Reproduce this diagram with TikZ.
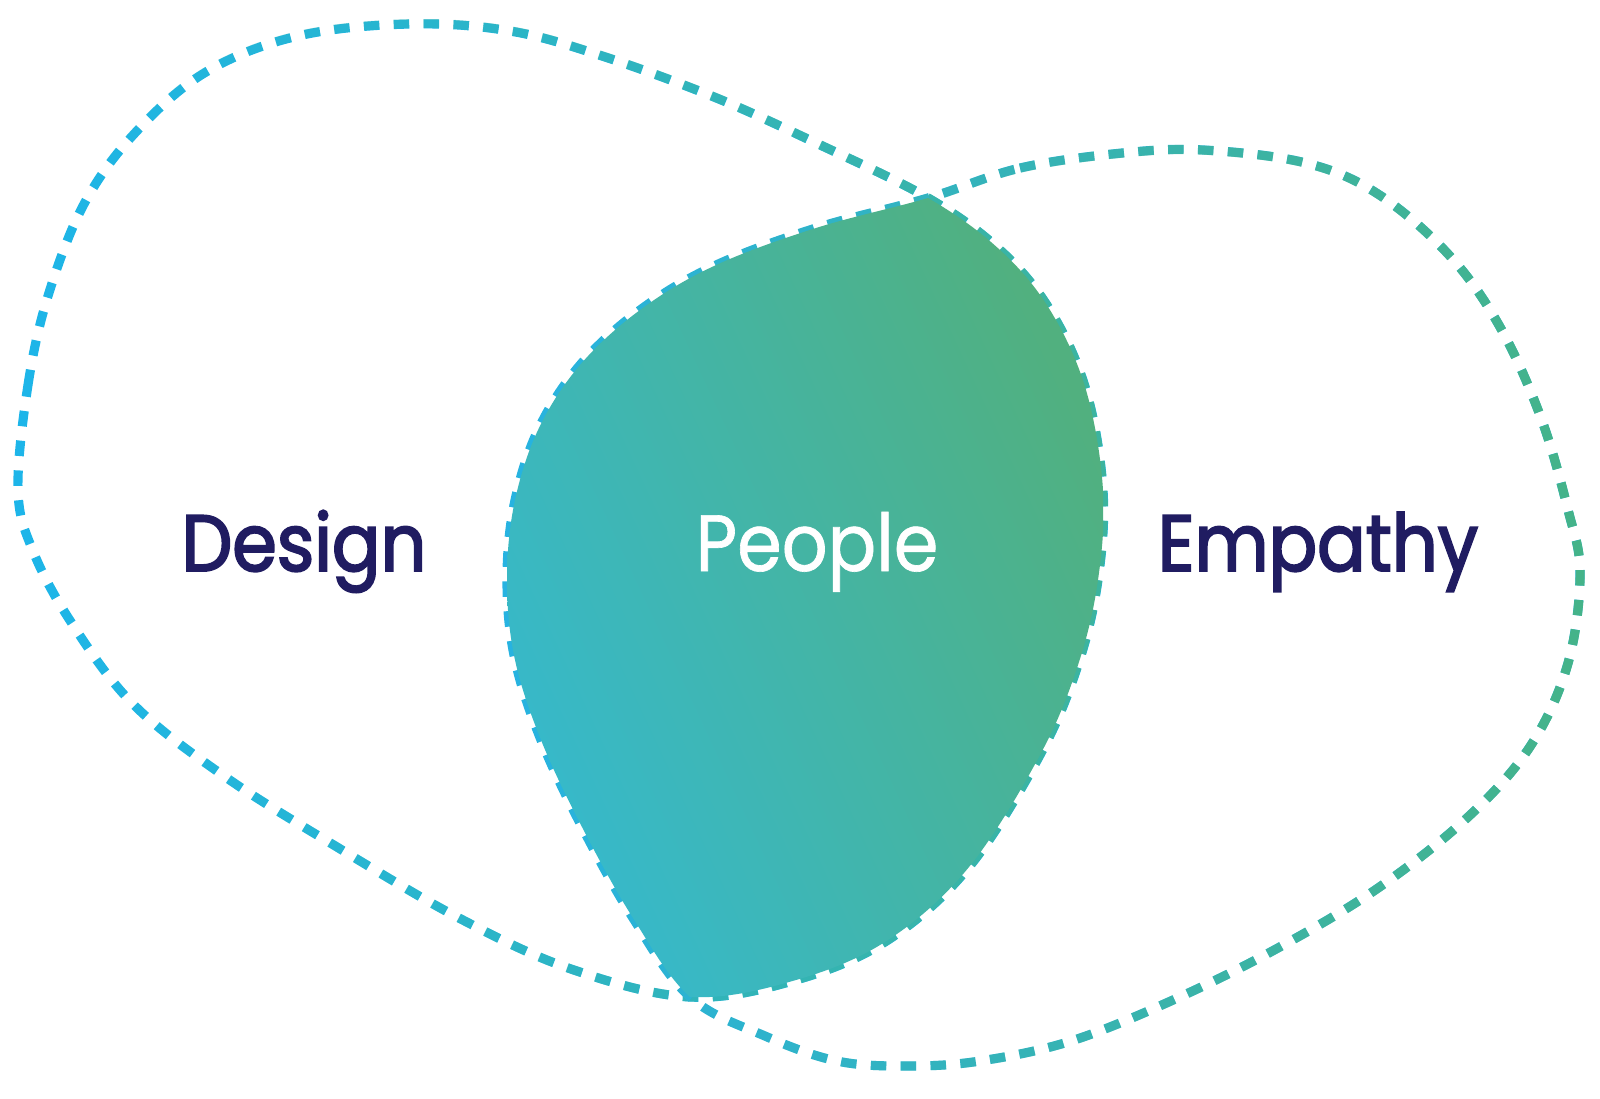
\documentclass[tikz,border=0pt]{standalone}
\usepackage{fontspec}
\setmainfont{Poppins}[FakeStretch=0.9,FakeBold=0.8]
\newfontfamily\labelfont{Poppins}[FakeStretch=0.9,FakeBold=2.4]
\usetikzlibrary{fadings}
\definecolor{ink}{HTML}{201C61}
\definecolor{dsgnL}{HTML}{1DB6EA}
\definecolor{dsgnR}{HTML}{3DB49E}
\definecolor{empL}{HTML}{27B4E2}
\definecolor{empR}{HTML}{45B389}
\definecolor{lensL}{HTML}{36B9CC}
\definecolor{lensR}{HTML}{51B07F}
\tikzfading[name=ramp, left color=transparent!100, right color=transparent!0]
\tikzset{
  blobline/.style={line width=2.6pt, dash pattern=on 4.4pt off 4.1pt},
  lbl/.style={font=\labelfont\fontsize{22.7}{27}\selectfont, text=ink, anchor=base, inner sep=0pt},
  lbl2/.style={font=\fontsize{22.7}{27}\selectfont, text=white, anchor=base, inner sep=0pt},
}
% ---- blob outlines (pixel units) ----
\newcommand{\designpath}{plot[smooth cycle, tension=0.6] coordinates {
  (18,490) (28,385) (48,296) (84,204) (135,133) (206,72) (298,36) (410,24)
  (510,31) (602,56) (714,97) (816,143) (928,198) (1000,250) (1050,310)
  (1086,390) (1103,490) (1098,580) (1078,665) (1040,755) (969,867)
  (888,940) (796,980) (690,997) (571,969) (459,918) (337,847) (224,776)
  (133,704) (71,622) (33,551)}}
\newcommand{\empathypath}{plot[smooth cycle, tension=0.6] coordinates {
  (928,198) (1020,168) (1122,153) (1204,150) (1306,163) (1378,194)
  (1449,255) (1500,327) (1541,418) (1568,510) (1580,573) (1568,663)
  (1531,745) (1469,816) (1378,888) (1276,949) (1173,1000) (1071,1041)
  (980,1061) (908,1066) (837,1061) (765,1036) (690,997) (633,918)
  (582,827) (541,740) (515,660) (507,583) (514,505) (538,430) (580,365)
  (640,310) (714,266) (816,228)}}

\begin{document}
\begin{tikzpicture}[x=0.1mm, y=-0.1mm]
\useasboundingbox (0,0) rectangle (1600,1098);
\coordinate (tcross) at (928,198);
\coordinate (bcross) at (690,997);
% outlines: base colour, then the right-hand colour faded in
\draw[blobline, draw=dsgnL] \designpath;
\draw[blobline, draw=dsgnR, path fading=ramp] \designpath;
\draw[blobline, draw=empL] \empathypath;
\draw[blobline, draw=empR, path fading=ramp] \empathypath;
% overlap
\begin{scope}
  \clip \designpath;
  \clip \empathypath;
  \shade[shading=axis, bottom color=lensL, top color=lensR, shading angle=-65]
    (507,198) rectangle (1103,997);
\end{scope}
\node[lbl] (design) at (304,571) {Design};
\node[lbl2] (people) at (817,571) {People};
\node[lbl] (empathy) at (1318,571) {Empathy};
\end{tikzpicture}
\end{document}
